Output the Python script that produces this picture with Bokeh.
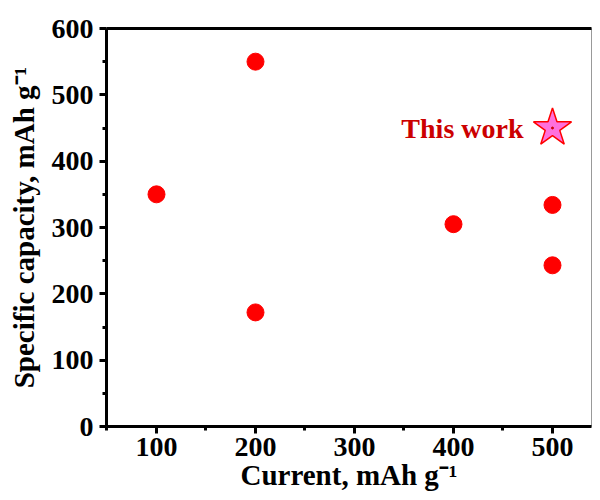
from bokeh.plotting import figure
from bokeh.models import Range1d, LinearAxis, FixedTicker
from bokeh.embed import file_html
from bokeh.resources import INLINE
from bokeh.core.properties import value

current = [100, 200, 200, 400, 500, 500]
capacity = [350, 550, 172, 305, 334, 243]
this_x = [500]
this_y = [450]
this_label = ["This work"]
x_ticks = [100, 200, 300, 400, 500]
y_ticks = [0, 100, 200, 300, 400, 500, 600]
x_minor = [50, 150, 250, 350, 450]
y_minor = [50, 150, 250, 350, 450, 550]

FONT = "Liberation Serif"

p = figure(width=592, height=500, output_backend="svg", toolbar_location=None,
           x_range=Range1d(49.5, 539.4), y_range=Range1d(0, 600),
           min_border_left=106, min_border_right=1, min_border_top=28, min_border_bottom=74)
p.xgrid.visible = False
p.ygrid.visible = False
p.outline_line_color = "#999999"
p.outline_line_width = 1
p.background_fill_color = "white"
p.border_fill_color = "white"

for ax in (p.xaxis[0], p.yaxis[0]):
    ax.axis_line_width = 3
    ax.axis_line_color = "black"
    ax.major_tick_line_width = 3
    ax.minor_tick_line_width = 3
    ax.major_tick_out = 7
    ax.major_tick_in = 0
    ax.minor_tick_out = 4
    ax.minor_tick_in = 0
    ax.major_label_text_font = FONT
    ax.major_label_text_font_style = "bold"
    ax.major_label_text_font_size = "28px"
    ax.major_label_text_color = "black"
    ax.axis_label_text_font = FONT
    ax.axis_label_text_font_style = "bold"
    ax.axis_label_text_font_size = "29px"
    ax.axis_label_text_color = "black"

p.xaxis[0].ticker = FixedTicker(ticks=x_ticks, minor_ticks=x_minor)
p.yaxis[0].ticker = FixedTicker(ticks=y_ticks, minor_ticks=y_minor)
p.xaxis[0].axis_label = "Current, mAh g\u207b\u00b9"
p.yaxis[0].axis_label = "Specific capacity, mAh g\u207b\u00b9"
p.xaxis[0].major_label_standoff = 4
p.xaxis[0].axis_label_standoff = 0
p.yaxis[0].major_label_standoff = 6
p.yaxis[0].axis_label_standoff = 9

top = LinearAxis(axis_line_width=3, axis_line_color="black",
                 major_tick_line_color=None, minor_tick_line_color=None,
                 major_label_text_font_size="0px")
top.ticker = FixedTicker(ticks=[])
p.add_layout(top, "above")

p.scatter(current, capacity, size=17, color="#ff0000", line_color="#ff0000")
p.scatter(this_x, this_y, marker="star", size=40, fill_color="#ff70dd",
          line_color="#ff0000", line_width=1.5)
p.scatter(this_x, this_y, size=2, color="#cc0000")
p.text(this_x, this_y, text=this_label, x_offset=-29, text_align="right",
       text_baseline="middle", text_color="#cc0000", text_font=value(FONT),
       text_font_style="bold", text_font_size="28px")

open("out.html", "w").write(file_html(p, INLINE))
